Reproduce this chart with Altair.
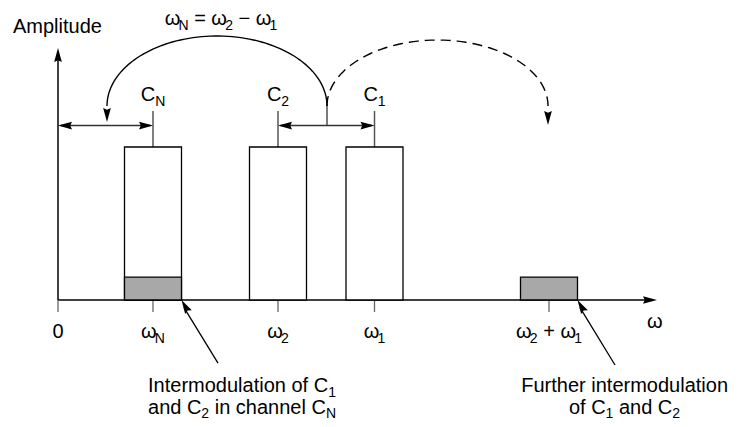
import altair as alt
import pandas as pd
import numpy as np

# ---------------- data (diagram units: x = frequency, y = amplitude) ----------------
channel_subs = ["N", "2", "1"]            # channels C_N, C_2, C_1
channel_freq = [1.9, 4.4, 6.33]           # ω_N, ω_2, ω_1
channel_amp = [1.0, 1.0, 1.0]
bar_half = 0.57
im_freq = [1.9, 9.82]                      # intermodulation products at ω_N and ω_2 + ω_1
im_amp = [0.15, 0.15]
tick_freq = [0.0, 1.9, 4.4, 6.33, 9.82]
tick_labels = [
    [("0", False)],
    [("ω", False), ("N", True)],
    [("ω", False), ("2", True)],
    [("ω", False), ("1", True)],
    [("ω", False), ("2", True), (" + ω", False), ("1", True)],
]
title_pieces = [("ω", False), ("N", True), (" = ω", False), ("2", True), (" − ω", False), ("1", True)]
note_left = [
    [("Intermodulation of C", False), ("1", True)],
    [("and C", False), ("2", True), (" in channel C", False), ("N", True)],
]
note_right = [
    [("Further intermodulation", False)],
    [("of C", False), ("1", True), (" and C", False), ("2", True)],
]

# ---------------- layout helpers ----------------
PX_X, PX_Y = 50.0, 153.0
W_PX, H_PX = 721, 411
X_DOM = [-1.0, -1.0 + W_PX / PX_X]
Y_DOM = [-(H_PX - 292) / PX_Y, 292 / PX_Y]
FONT = "Liberation Sans, Arial, Helvetica, sans-serif"
MAIN, SUB = 20, 14
SUB_DROP = 5
CW = {"A": .667, "m": .833, "p": .556, "l": .222, "i": .222, "t": .278, "u": .556, "d": .556,
      "e": .556, "I": .278, "n": .556, "r": .333, "o": .556, "a": .556, "f": .278, "C": .722,
      "h": .556, "c": .5, "F": .611, "N": .722, " ": .278, "0": .556, "1": .556, "2": .556,
      "=": .584, "+": .584, "−": .584, "ω": .69}


def wpx(s, size):
    return sum(CW[c] for c in s) * size


def place(pieces, x, a, anchor, drop=SUB_DROP):
    total = sum(wpx(t, SUB if s else MAIN) for t, s in pieces)
    cur = x * PX_X - {"left": 0, "center": total / 2, "right": total}[anchor]
    rows = []
    for t, s in pieces:
        size = SUB if s else MAIN
        lead = len(t) - len(t.lstrip(" "))
        rows.append(dict(x=(cur + wpx(" " * lead, size)) / PX_X,
                         y=a - (drop / PX_Y if s else 0),
                         text=t.strip(" "), size=size))
        cur += wpx(t, size)
    return rows


# ---------------- build tables ----------------
bars = pd.DataFrame([dict(x=f - bar_half, x2=f + bar_half, y=0, y2=h, fill="white")
                     for f, h in zip(channel_freq, channel_amp)] +
                    [dict(x=f - bar_half, x2=f + bar_half, y=0, y2=h, fill="#a8a8a8")
                     for f, h in zip(im_freq, im_amp)])

segs = [
    dict(x=0, y=0, x2=0, y2=1.6, c="black", w=1.5),
    dict(x=0, y=0, x2=11.9, y2=0, c="black", w=1.5),
    dict(x=0.05, y=1.14, x2=1.85, y2=1.14, c="#333", w=1.5),
    dict(x=4.45, y=1.14, x2=6.28, y2=1.14, c="#333", w=1.5),
    dict(x=5.38, y=1.14, x2=5.38, y2=1.268, c="#333", w=1.3),
    dict(x=3.2, y=-0.412, x2=2.52, y2=-0.05, c="black", w=1.3),
    dict(x=11.14, y=-0.425, x2=10.44, y2=-0.05, c="black", w=1.3),
]
for f in tick_freq:
    segs.append(dict(x=f, y=0, x2=f, y2=-0.078, c="#666", w=1.3))
for f, h in zip(channel_freq, channel_amp):
    segs.append(dict(x=f, y=h, x2=f, y2=h + 0.235, c="#555", w=1.5))
segs = pd.DataFrame(segs)

heads = pd.DataFrame([
    dict(x=0, y=1.647, angle=0), dict(x=11.98, y=0, angle=90),
    dict(x=0, y=1.14, angle=270), dict(x=1.9, y=1.14, angle=90),
    dict(x=4.4, y=1.14, angle=270), dict(x=6.33, y=1.14, angle=90),
    dict(x=0.98, y=1.163, angle=180), dict(x=9.80, y=1.144, angle=180),
    dict(x=2.47, y=0, angle=330), dict(x=10.39, y=0, angle=330),
])

t = np.linspace(0, np.pi, 80)
arc_solid = pd.DataFrame(dict(x=3.18 + 2.2 * np.cos(t), y=1.268 + 0.4575 * np.sin(t), i=np.arange(len(t))))
arc_dash = pd.DataFrame(dict(x=7.59 - 2.21 * np.cos(t), y=1.268 + 0.431 * np.sin(t), i=np.arange(len(t))))

texts = []
texts += place([("Amplitude", False)], -0.9, 1.745, "left")
texts += place(title_pieces, 3.26, 1.797, "center")
for f, s in zip(channel_freq, channel_subs):
    texts += place([("C", False), (s, True)], f, 1.30, "center")
for f, lab in zip(tick_freq, tick_labels):
    texts += place(lab, f, -0.248, "center")
texts += place([("ω", False)], 11.92, -0.183, "center")
texts += place(note_left[0], 3.68, -0.601, "center")
texts += place(note_left[1], 3.68, -0.745, "center", drop=4)
texts += place(note_right[0], 13.4, -0.601, "right")
texts += place(note_right[1], 11.33, -0.745, "center", drop=4)
texts = pd.DataFrame(texts)

# ---------------- chart ----------------
xs = alt.Scale(domain=X_DOM, nice=False, zero=False)
ys = alt.Scale(domain=Y_DOM, nice=False, zero=False)
X = lambda f: alt.X(f, type="quantitative", scale=xs, axis=None)
Y = lambda f: alt.Y(f, type="quantitative", scale=ys, axis=None)

rects = alt.Chart(bars).mark_rect(stroke="black", strokeWidth=1.3).encode(
    x=X("x"), x2="x2", y=Y("y"), y2="y2", fill=alt.Fill("fill:N", scale=None))

lines = alt.Chart(segs).mark_rule().encode(
    x=X("x"), x2="x2", y=Y("y"), y2="y2",
    color=alt.Color("c:N", scale=None), strokeWidth=alt.StrokeWidth("w:Q", scale=None))

solid = alt.Chart(arc_solid).mark_line(color="black", strokeWidth=1.4).encode(
    x=X("x"), y=Y("y"), order="i:Q")
dashed = alt.Chart(arc_dash).mark_line(color="black", strokeWidth=1.4, strokeDash=[10, 6]).encode(
    x=X("x"), y=Y("y"), order="i:Q")

ARROW = "M0,0L0.55,2L0,1.75L-0.55,2Z"
arrows = alt.Chart(heads).mark_point(shape=ARROW, filled=True, size=196, color="black",
                                      opacity=1, strokeWidth=0).encode(
    x=X("x"), y=Y("y"), angle=alt.Angle("angle:Q", scale=None))

labels = alt.Chart(texts).mark_text(align="left", baseline="alphabetic", font=FONT, color="black").encode(
    x=X("x"), y=Y("y"), text="text:N", size=alt.Size("size:Q", scale=None))

chart = alt.layer(lines, rects, solid, dashed, arrows, labels).properties(
    width=W_PX, height=H_PX, padding=0, autosize=alt.AutoSizeParams(type="none"),
    background="white",
).configure_view(stroke=None)

chart.save("out.html", embed_options={"renderer": "svg", "actions": False})
